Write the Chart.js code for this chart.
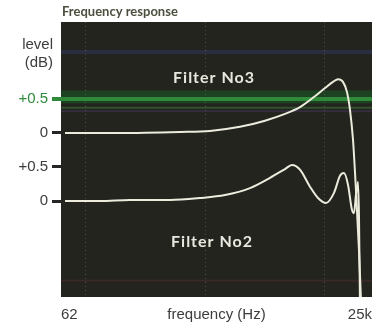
<!DOCTYPE html>
<html>
<head>
<meta charset="utf-8">
<script src="https://cdn.jsdelivr.net/npm/chart.js"></script>
<style>
  html, body { margin: 0; padding: 0; background: #ffffff; }
  #wrap { width: 375px; height: 322px; }
</style>
</head>
<body>
<div id="wrap"><canvas id="freqChart"></canvas></div>
<script>
// values (frequency in Hz, level in dB)
const freqNo3  = [67, 194, 616, 1098, 1958, 3172, 4667, 6230, 8320, 10100, 11780, 12970, 14280, 15430, 16350, 17330, 18350, 19440, 20210];
const levelNo3 = [0, 0, 0.015, 0.03, 0.09, 0.18, 0.28, 0.38, 0.54, 0.66, 0.75, 0.79, 0.75, 0.60, 0.34, -0.10, -0.84, -1.72, -2.45];

const freqNo2  = [67, 132, 235, 508, 906, 1467, 2376, 3496, 4667, 5340, 6230, 7556, 8823, 10290, 12010, 13490, 14560, 15730, 16990, 17660, 18350, 19070, 19440, 19820];
const levelNo2 = [0, 0, 0.015, 0.015, 0.044, 0.088, 0.19, 0.34, 0.47, 0.53, 0.46, 0.21, 0.044, -0.03, 0.12, 0.37, 0.41, 0.24, -0.13, -0.18, 0.09, 0.28, -0.21, -1.5];

// No3 trace is drawn 1 dB above No2, each with its own zero
const offsetNo3 = 1;

const yTickValues = [0, 0.5, 1, 1.5];
const yTickLabels = ['0', '+0.5', '0', '+0.5'];

const xTickValues = [62, 100, 1000, 1245, 10000, 25000];
const xTickLabels = ['62', '', '', 'frequency (Hz)', '', '25k'];
const xGridValues = [100, 1000, 10000];

const toPoints = (xs, ys, off) => xs.map((x, i) => ({ x: x, y: ys[i] + off }));

const green = '#2f8a3a';

// dark scope background, coloured scan bands, and the loose text
const decor = {
  id: 'decor',
  beforeDraw(chart) {
    const { ctx, chartArea: a, scales: { y } } = chart;
    ctx.save();
    ctx.fillStyle = '#ffffff';
    ctx.fillRect(0, 0, chart.width, chart.height);
    ctx.fillStyle = '#23241e';
    ctx.fillRect(a.left, a.top, a.right - a.left, a.bottom - a.top);
    const band = (v, h, col) => {
      ctx.fillStyle = col;
      ctx.fillRect(a.left, y.getPixelForValue(v) - h / 2, a.right - a.left, h);
    };
    band(2.19, 4, 'rgba(55,60,115,0.4)');
    band(1.53, 13, 'rgba(24,95,36,0.5)');
    band(1.37, 2, 'rgba(60,120,60,0.55)');
    band(1.32, 2, 'rgba(80,60,110,0.4)');
    band(-1.17, 2, 'rgba(110,50,50,0.3)');
    ctx.restore();
  },
  afterDraw(chart) {
    const { ctx, chartArea: a } = chart;
    ctx.save();
    ctx.fillStyle = '#4a4f3e';
    ctx.font = 'bold 13px Lato';
    ctx.textBaseline = 'middle';
    ctx.textAlign = 'left';
    ctx.fillText('Frequency response', a.left + 1, 12);

    ctx.fillStyle = '#3c3c3c';
    ctx.font = '15px "Liberation Sans"';
    ctx.textAlign = 'right';
    ctx.fillText('level', a.left - 8, 45);
    ctx.fillText('(dB)', a.left - 8, 63);

    ctx.fillStyle = '#e9e8de';
    ctx.font = 'bold 16px Lato';
    ctx.letterSpacing = '1px';
    ctx.textAlign = 'center';
    ctx.fillText('Filter No3', 214, 78);
    ctx.fillText('Filter No2', 212, 242);
    ctx.letterSpacing = '0px';
    ctx.restore();
  }
};

new Chart(document.getElementById('freqChart'), {
  type: 'line',
  data: {
    datasets: [
      {
        label: 'Filter No3',
        data: toPoints(freqNo3, levelNo3, offsetNo3),
        borderColor: '#ecebdc',
        borderWidth: 2,
        pointRadius: 0,
        cubicInterpolationMode: 'monotone'
      },
      {
        label: 'Filter No2',
        data: toPoints(freqNo2, levelNo2, 0),
        borderColor: '#ecebdc',
        borderWidth: 2,
        pointRadius: 0,
        cubicInterpolationMode: 'monotone'
      }
    ]
  },
  plugins: [decor],
  options: {
    responsive: true,
    maintainAspectRatio: false,
    animation: false,
    layout: { padding: { top: 22, right: 3, left: 0, bottom: 0 } },
    plugins: {
      legend: { display: false },
      tooltip: { enabled: false }
    },
    scales: {
      x: {
        type: 'logarithmic',
        min: 62,
        max: 25000,
        afterBuildTicks: (scale) => { scale.ticks = xTickValues.map(v => ({ value: v })); },
        afterFit: (scale) => {
          scale.height = 25;
          scale.paddingLeft = 0;
          scale.paddingRight = 0;
        },
        ticks: {
          autoSkip: false,
          maxRotation: 0,
          align: 'inner',
          padding: 9,
          color: '#3c3c3c',
          font: { family: 'Liberation Sans', size: 15 },
          callback: (v, i) => xTickLabels[i]
        },
        border: { display: false, dash: [1, 3] },
        grid: {
          drawTicks: false,
          color: (c) => xGridValues.includes(c.tick && c.tick.value) ? 'rgba(190,190,175,0.28)' : 'rgba(0,0,0,0)',
          lineWidth: 1
        }
      },
      y: {
        min: -1.41,
        max: 2.63,
        afterBuildTicks: (scale) => { scale.ticks = yTickValues.map(v => ({ value: v })); },
        afterFit: (scale) => { scale.width = 61; },
        ticks: {
          padding: 4,
          color: (c) => c.tick && c.tick.value === 1.5 ? green : '#3c3c3c',
          font: { family: 'Liberation Sans', size: 15 },
          callback: (v, i) => yTickLabels[i]
        },
        border: { display: false },
        grid: {
          tickLength: 9,
          color: (c) => c.tick && c.tick.value === 1.5 ? green : 'rgba(0,0,0,0)',
          tickColor: (c) => c.tick && c.tick.value === 1.5 ? green : '#262626',
          lineWidth: (c) => c.tick && c.tick.value === 1.5 ? 4 : 3
        }
      }
    }
  }
});
</script>
</body>
</html>
